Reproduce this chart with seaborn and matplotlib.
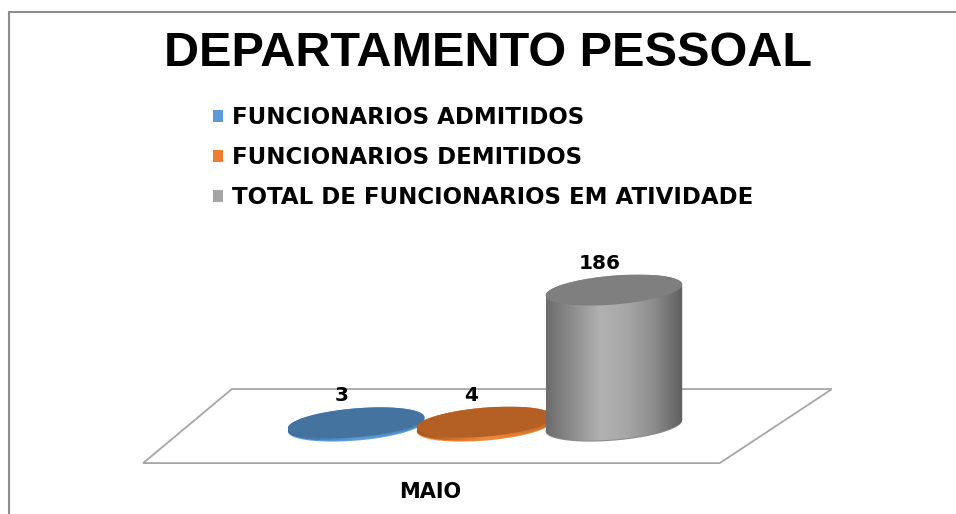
import numpy as np
import pandas as pd
import matplotlib
matplotlib.use("Agg")
import matplotlib.pyplot as plt
import seaborn as sns
from matplotlib.colors import LinearSegmentedColormap
from matplotlib.patches import Polygon, Patch
from matplotlib.lines import Line2D

# dados do grafico
series = ["FUNCIONARIOS ADMITIDOS", "FUNCIONARIOS DEMITIDOS",
          "TOTAL DE FUNCIONARIOS EM ATIVIDADE"]
months = ["MAIO"]
values = [3, 4, 186]
legend_colors = ["#5b9bd5", "#ed7d31", "#a5a5a5"]

df = pd.DataFrame({"mes": months * len(series), "serie": series, "valor": values})

# cores do "3D": topo, aro inferior, gradiente do corpo
top_colors = ["#44739f", "#b45f24", "#7f7f7f"]
rim_colors = ["#62a3e0", "#f48b3a", "#8c8c8c"]
body_grads = [
    ["#3d6a94", "#5b9bd5", "#4a80b5"],
    ["#a5521c", "#f08a3c", "#c8662a"],
    ["#6c6c6c", "#8e8e8e", "#b2b2b2", "#a6a6a6", "#8a8a8a", "#5e5e5e"],
]

sns.set_theme(style="white")
plt.rcParams["font.family"] = ["DejaVu Sans"]
plt.rcParams["text.color"] = "black"

fig = plt.figure(figsize=(9.56, 5.14), dpi=100)
ax = fig.add_axes([139 / 956, 1 - 470 / 514, 693 / 956, 230 / 514])

sns.barplot(data=df, x="mes", y="valor", hue="serie", palette=legend_colors,
            ax=ax, legend=False, width=0.8)

XLIM = (-0.716, 0.718)
YLIM = (-62, 255)
ax.set_xlim(*XLIM)
ax.set_ylim(*YLIM)

# piso em perspectiva (coordenadas do eixo)
floor = Polygon([(0.134, 0.352), (1.0, 0.352), (0.838, 0.030), (0.006, 0.030)],
                closed=True, transform=ax.transAxes, facecolor="white",
                edgecolor="#a6a6a6", lw=1.3, zorder=0.5)
ax.add_patch(floor)

# inclinacao das elipses (em unidades de dados)
px_x = 693 / (XLIM[1] - XLIM[0])
px_y = 230 / (YLIM[1] - YLIM[0])
slope = 0.08 * px_x / px_y
b = 14.5 / px_y


def ellipse(cx, cy, a, t0=0, t1=2 * np.pi, n=80):
    t = np.linspace(t0, t1, n)
    x = cx + a * np.cos(t)
    y = cy + b * np.sin(t) + slope * (x - cx)
    return np.column_stack([x, y])


bars = [p for p in ax.patches if p is not floor]
for i, p in enumerate(bars):
    p.set_visible(False)
    cx = p.get_x() + p.get_width() / 2
    a = p.get_width() * 0.53
    h = p.get_height()
    z = 2 + i * 3

    # aro inferior
    ax.add_patch(Polygon(ellipse(cx, -1.5, a), closed=True,
                         facecolor=rim_colors[i], edgecolor="none", zorder=z))
    # corpo com gradiente
    outline = np.vstack([ellipse(cx, 0, a, np.pi, 2 * np.pi),
                         ellipse(cx, h, a, 0, np.pi)])
    body = Polygon(outline, closed=True, facecolor="none", edgecolor="none", zorder=z)
    ax.add_patch(body)
    cmap = LinearSegmentedColormap.from_list("c%d" % i, body_grads[i])
    ymin, ymax = outline[:, 1].min(), outline[:, 1].max()
    im = ax.imshow(np.linspace(0, 1, 256)[None, :], extent=[cx - a, cx + a, ymin, ymax],
                   aspect="auto", cmap=cmap, zorder=z + 0.5, interpolation="bilinear")
    im.set_clip_path(body)
    # topo
    ax.add_patch(Polygon(ellipse(cx, h, a), closed=True,
                         facecolor=top_colors[i], edgecolor="none", zorder=z + 1))
    # rotulo de valor
    ax.annotate(f"{values[i]:g}", (cx, h), xytext=(-14, 27), textcoords="offset pixels",
                ha="center", va="center", fontsize=14.5, fontweight="bold",
                color="black", zorder=20)

ax.set_xlim(*XLIM)
ax.set_ylim(*YLIM)
ax.axis("off")

# moldura do grafico
fig.add_artist(Line2D([9 / 956, 9 / 956], [0, 1 - 12 / 514], color="#8c8c8c", lw=1.5))
fig.add_artist(Line2D([9 / 956, 1], [1 - 12 / 514, 1 - 12 / 514], color="#8c8c8c", lw=1.5))

fig.text(488 / 956, 1 - 54 / 514, "DEPARTAMENTO PESSOAL", ha="center", va="center",
         fontsize=35, fontweight="bold", color="black",
         family=["Liberation Sans Narrow", "Liberation Sans", "DejaVu Sans"])

fig.text(430 / 956, 1 - 492 / 514, months[0], ha="center", va="center",
         fontsize=15, fontweight="bold", color="black")

handles = [Patch(facecolor=c, edgecolor="none") for c in legend_colors]
leg = fig.legend(handles, series, loc="upper left", bbox_to_anchor=(213 / 956, 1 - 106.5 / 514),
                 frameon=False, prop={"weight": "bold", "size": 16.5},
                 handlelength=0.44, handleheight=0.44, handletextpad=0.4, labelspacing=0.74,
                 borderaxespad=0, borderpad=0)
for t in leg.get_texts():
    t.set_color("black")

fig.savefig("out.png", dpi=100)
